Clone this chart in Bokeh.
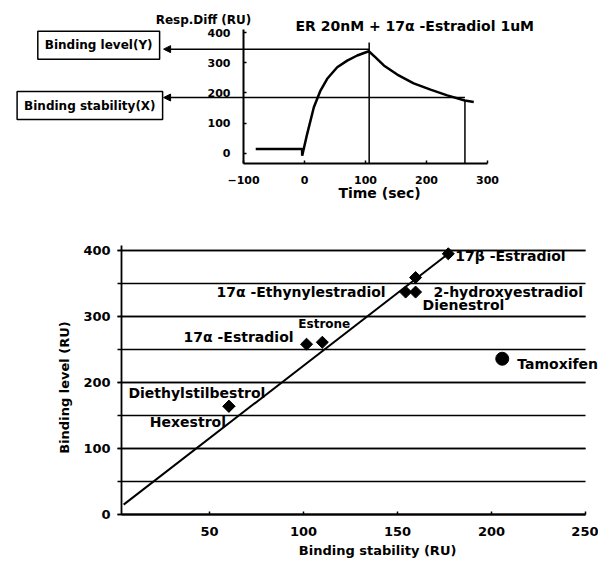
import numpy as np
from bokeh.plotting import figure
from bokeh.layouts import column
from bokeh.models import Range1d, Label, Arrow, NormalHead, SingleIntervalTicker
from bokeh.embed import file_html
from bokeh.resources import INLINE

FONT = "DejaVu Sans"

# ---------------- top sensorgram (ER 20nM + 17a-Estradiol 1uM) ----------------
time_s = [-80, -4, -3.8, 4.4, 15.3, 26.2, 37.2, 53.6, 70, 86.4, 105.4,
          116.4, 130, 152, 179, 206.6, 234, 262.8, 277.5]
resp_ru = [15, 15, -7, 65, 153, 208, 247, 285, 307, 324, 338,
           318, 291, 261, 232, 211, 192, 175, 170]

peak_t = 106        # end of injection (s)
peak_top = 367      # spike top (RU)
end_t = 263         # stability read-out time (s)
end_ru = 175        # response at read-out (RU)
level_y = 345       # binding level (Y)
stab_y = 185        # binding stability (X)
arrow_tip_t = -231  # arrow tips (s, left of axis)

# ---------------- bottom scatter ----------------
compounds = ["17\u03b2 -Estradiol", "2-hydroxyestradiol", "17\u03b1 -Ethynylestradiol",
             "Dienestrol", "Estrone", "17\u03b1 -Estradiol", "Diethylstilbestrol",
             "Hexestrol", "Tamoxifen"]
stability = [177, 159.6, 154.3, 159.6, 110, 101.6, 60.3, 60.3, 205.7]
level = [395, 359, 337, 337, 261, 258, 164, 164, 236]
fit_x = [4.3, 177]
fit_y = [15, 395]

# label placement (align, dx px, dy px upward, font size)
label_style = [
    ("left", 7, -2, "14px"),
    ("left", 18, -14, "14px"),
    ("right", -20, 0, "14px"),
    ("left", 7, -13, "14px"),
    ("left", -24, 18, "12px"),
    ("right", -13, 7, "14px"),
    ("center", -32, 13, "14px"),
    ("center", -41, -16, "14px"),
    ("left", 15, -5, "14px"),
]

txt_kw = dict(text_font=FONT, text_font_style="bold", text_color="black",
              text_baseline="middle")

# ======== top figure (frame = whole canvas, axes at fixed locations) ========
T_X0, T_X1 = -100, 300      # time axis extent
T_Y0, T_Y1 = -33.1, 410     # response axis extent
p1 = figure(width=598, height=215, x_range=Range1d(-498.4, 481.97),
            y_range=Range1d(-205.0, 505.8), output_backend="svg",
            toolbar_location=None, min_border_left=0, min_border_right=0,
            min_border_top=0, min_border_bottom=0)
p1.outline_line_color = None
p1.xgrid.visible = False
p1.ygrid.visible = False
p1.background_fill_color = "white"
p1.border_fill_color = "white"

p1.yaxis.ticker = SingleIntervalTicker(interval=100, num_minor_ticks=0)
p1.yaxis.fixed_location = T_X0
p1.yaxis.bounds = (T_Y0, T_Y1)
p1.xaxis.ticker = SingleIntervalTicker(interval=100, num_minor_ticks=0)
p1.xaxis.fixed_location = T_Y0
p1.xaxis.bounds = (T_X0, T_X1)
for ax in (p1.xaxis, p1.yaxis):
    ax.axis_line_width = 2
    ax.axis_line_color = "black"
    ax.major_tick_in = 3
    ax.major_tick_out = 0
    ax.minor_tick_line_color = None
    ax.major_tick_line_width = 1.5
    ax.major_label_text_font = FONT
    ax.major_label_text_font_style = "bold"
    ax.major_label_text_font_size = "11px"
    ax.major_label_text_color = "black"
p1.yaxis.major_label_standoff = 13
p1.xaxis.major_label_standoff = 12

p1.line(time_s, resp_ru, line_width=2.5, color="black")
p1.segment(x0=[peak_t, end_t], y0=[T_Y0, T_Y0], x1=[peak_t, end_t],
           y1=[peak_top, end_ru], line_width=1.5, color="black")

for ys, xs in ((level_y, peak_t), (stab_y, end_t)):
    p1.add_layout(Arrow(end=NormalHead(size=7, fill_color="black", line_color="black"),
                        x_start=xs, y_start=ys, x_end=arrow_tip_t, y_end=ys,
                        line_width=1.5, line_color="black"))

box_kw = dict(text_align="right", text_baseline="middle", border_line_color="black",
              border_line_width=1.5, background_fill_color="white", padding=7,
              text_font=FONT, text_font_style="bold", text_font_size="12px",
              text_color="black")
p1.add_layout(Label(x=arrow_tip_t, y=level_y, text="Binding level(Y)",
                    x_offset=-4, y_offset=4, **box_kw))
p1.add_layout(Label(x=arrow_tip_t, y=stab_y, text="Binding stability(X)",
                    x_offset=-1, y_offset=-8, **box_kw))

p1.add_layout(Label(x=-14.8, y=420, text="ER 20nM + 17\u03b1 -Estradiol 1uM",
                    text_align="left", text_font_size="14px", **txt_kw))
p1.add_layout(Label(x=-244, y=440, text="Resp.Diff (RU)", text_align="left",
                    text_font_size="12px", **txt_kw))
p1.add_layout(Label(x=123, y=-132, text="Time (sec)",
                    text_align="center", text_font_size="14px", **txt_kw))

# ======== bottom figure ========
B_X0, B_X1 = 3.2, 250
B_Y0, B_Y1 = 0, 407.6
p2 = figure(width=598, height=354, x_range=Range1d(-61.2, 256.9),
            y_range=Range1d(-83.3, 453.0), output_backend="svg",
            toolbar_location=None, min_border_left=0, min_border_right=0,
            min_border_top=0, min_border_bottom=0)
p2.outline_line_color = None
p2.background_fill_color = "white"
p2.border_fill_color = "white"
p2.xgrid.visible = False

yt2 = SingleIntervalTicker(interval=100, num_minor_ticks=2)
p2.yaxis.ticker = yt2
p2.ygrid.ticker = yt2
p2.yaxis.fixed_location = B_X0
p2.yaxis.bounds = (B_Y0, B_Y1)
p2.ygrid.bounds = (B_Y0, 400)
p2.ygrid.cross_bounds = (B_X0, B_X1)
p2.ygrid.grid_line_color = "black"
p2.ygrid.grid_line_width = 1.4
p2.ygrid.minor_grid_line_color = "black"
p2.ygrid.minor_grid_line_width = 1.4
p2.xaxis.ticker = SingleIntervalTicker(interval=50, num_minor_ticks=0)
p2.xaxis.fixed_location = B_Y0
p2.xaxis.bounds = (B_X0, B_X1)

for ax in (p2.xaxis, p2.yaxis):
    ax.axis_line_color = "black"
    ax.major_label_text_font = FONT
    ax.major_label_text_font_style = "bold"
    ax.major_label_text_font_size = "13px"
    ax.major_label_text_color = "black"
    ax.major_tick_line_width = 1.5
p2.yaxis.axis_line_width = 1.8
p2.xaxis.axis_line_width = 2.2
p2.yaxis.major_tick_out = 4
p2.yaxis.major_tick_in = 0
p2.yaxis.minor_tick_out = 4
p2.yaxis.minor_tick_in = 0
p2.yaxis.minor_tick_line_width = 1.5
p2.yaxis.major_label_standoff = 7
p2.xaxis.major_tick_in = 3
p2.xaxis.major_tick_out = 0
p2.xaxis.major_label_standoff = 12

p2.line(fit_x, fit_y, line_width=2, color="black")
p2.scatter(stability[:8], level[:8], marker="square", angle=np.pi / 4, size=8.5,
           color="black")
p2.scatter(stability[8:], level[8:], marker="circle", size=13, color="black")

for i, name in enumerate(compounds):
    align, dx, dy, fs = label_style[i]
    p2.add_layout(Label(x=stability[i], y=level[i], text=name, text_align=align,
                        x_offset=dx, y_offset=dy, text_font_size=fs, **txt_kw))

p2.add_layout(Label(x=139.4, y=-54.5, text="Binding stability (RU)",
                    text_align="center", text_font_size="13px", **txt_kw))
p2.add_layout(Label(x=-27.1, y=192.4, text="Binding level (RU)", angle=np.pi / 2,
                    text_align="center", text_font_size="13px", **txt_kw))

layout = column(p1, p2)
open("out.html", "w").write(file_html(layout, INLINE))
